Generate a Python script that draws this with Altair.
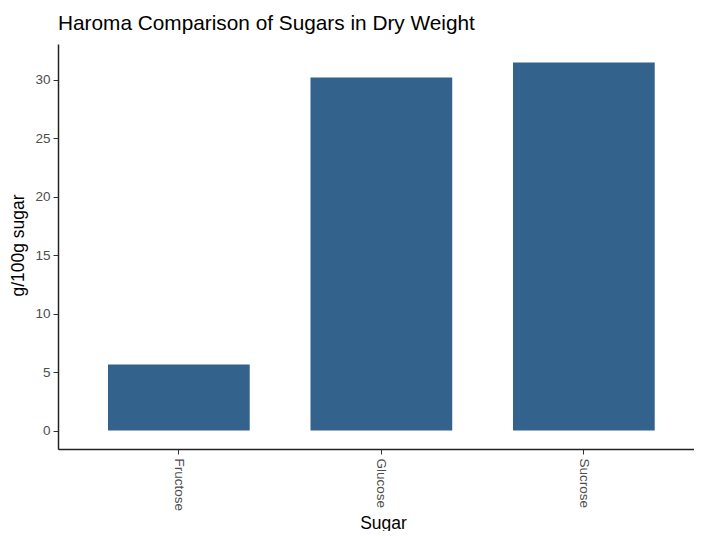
import altair as alt
import pandas as pd

sugars = ["Fructose", "Glucose", "Sucrose"]
grams = [5.66, 30.2, 31.48]
y_ticks = [0, 5, 10, 15, 20, 25, 30]

df = pd.DataFrame({"Sugar": sugars, "g": grams})
top = max(grams)
ydom = [-0.05 * top, 1.05 * top]

FONT = "Liberation Sans, Arial, sans-serif"

chart = (
    alt.Chart(df)
    .mark_bar(color="#33638D")
    .encode(
        x=alt.X(
            "Sugar:N",
            sort=sugars,
            scale=alt.Scale(paddingInner=0.3, paddingOuter=0.2204, align=0.56),
            axis=alt.Axis(
                title="Sugar",
                labelAngle=90,
                labelAlign="left",
                labelBaseline="middle",
                labelFontSize=13.5,
                labelColor="#4D4D4D",
                labelPadding=4,
                tickSize=5,
                tickColor="#333333",
                domainColor="#222222",
                domainWidth=1.5,
                titleFontSize=17.5,
                titleColor="#000000",
                titleFontWeight="normal",
                titleX=325,
                titleY=79,
                titleAlign="center",
                titleBaseline="alphabetic",
            ),
        ),
        y=alt.Y(
            "g:Q",
            scale=alt.Scale(domain=ydom, nice=False),
            axis=alt.Axis(
                title="g/100g sugar",
                values=y_ticks,
                labelFontSize=13.5,
                labelColor="#4D4D4D",
                labelPadding=3,
                tickSize=5,
                tickColor="#333333",
                domainColor="#222222",
                domainWidth=1.5,
                titleFontSize=17.5,
                titleColor="#000000",
                titleFontWeight="normal",
                titleX=-34.5,
                titleY=201,
                titleAlign="center",
                titleBaseline="alphabetic",
            ),
        ),
    )
    .properties(
        width=636,
        height=405,
        autosize=alt.AutoSizeParams(type="none"),
        padding={"left": 50, "top": 36, "right": 0, "bottom": 82},
        title=alt.TitleParams(
            text="Haroma Comparison of Sugars in Dry Weight",
            anchor="start",
            frame="group",
            fontSize=20.8,
            fontWeight="normal",
            color="#000000",
            offset=14,
            dy=21,
            baseline="alphabetic",
            font=FONT,
        ),
    )
    .configure_view(stroke=None)
    .configure_axis(grid=False, labelFont=FONT, titleFont=FONT)
)

chart.save("out.html", embed_options={"renderer": "svg", "actions": False})
